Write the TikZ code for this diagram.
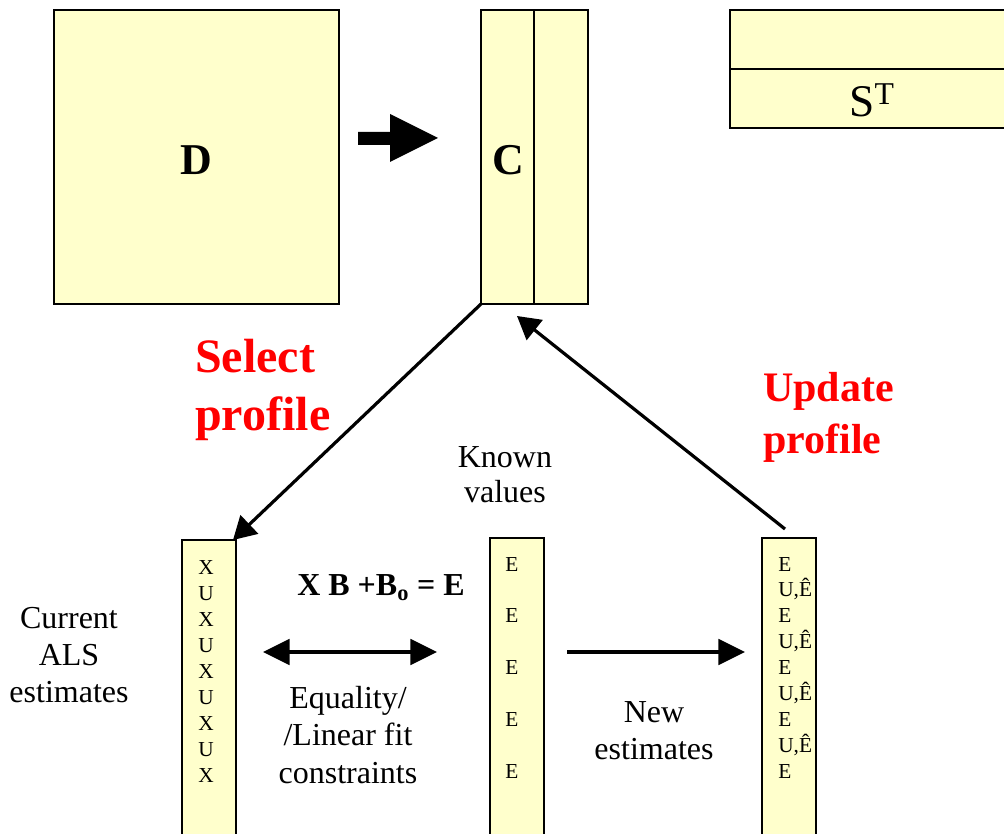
\documentclass[tikz,border=0pt]{standalone}
\usepackage{fontspec}
\setmainfont{Liberation Serif}
\usetikzlibrary{arrows.meta}
\definecolor{paleyel}{RGB}{255,255,204}
\definecolor{hotred}{RGB}{255,0,0}

\begin{document}
\begin{tikzpicture}[x=0.75pt,y=-0.75pt,
	box/.style={draw,line width=1.5pt,fill=paleyel},
	arr/.style={line width=2.4pt,-{Triangle[length=17pt,width=19pt]}},
	big/.style={font=\fontsize{33}{38}\selectfont\bfseries},
	redtxt/.style={text=hotred,align=left,inner sep=0pt},
	txt/.style={font=\fontsize{24}{28}\selectfont,align=center,inner sep=0pt},
	entry/.style={font=\fontsize{16}{19}\selectfont,inner sep=0pt}]
	\useasboundingbox (0,0) rectangle (1004,834);
	\clip (0,0) rectangle (1004,834);
	\path 
	(54,10) coordinate (D1) (339,304) coordinate (D2)
	(481,10) coordinate (C1) (588,304) coordinate (C2)
	(730,10) coordinate (S1) (1012,128) coordinate (S2)
	(182,540) coordinate (X1) (236,850) coordinate (X2)
	(490,538) coordinate (E1) (544,850) coordinate (E2)
	(762,538) coordinate (N1) (816,850) coordinate (N2)
	;
	% matrices D, C, S^T and the three profiles
	\foreach \m in {D,C,S,X,E,N} \draw[box] (\m1) rectangle (\m2);
	\draw[line width=1.5pt] (534,10)--(534,304) (730,69)--(1012,69);
	\node[big] (dlab) at (196,160) {D};
	\node[big] (clab) at (508,160) {C};
	\node[font=\fontsize{34}{38}\selectfont] (slab) at (872,100) {S\textsuperscript{T}};
	% D -> C
	\fill (358,132)--(390,132)--(390,114)--(438,138)--(390,162)--(390,145)--(358,145)--cycle;
	% select / update
	\path (481,304) coordinate (csw) (233,540) coordinate (xtop)
	(785,529) coordinate (ntop) (517,316) coordinate (cbot);
	\draw[arr] (csw)--(xtop);
	\draw[arr] (ntop)--(cbot);
	\node[redtxt,anchor=west,font=\fontsize{36}{43}\selectfont\bfseries] (sel) at (195,390) {Select\\profile};
	\node[redtxt,anchor=west,font=\fontsize{31.5}{39}\selectfont\bfseries] (upd) at (763,417) {Update\\profile};
	% profile entries
	\foreach \l [count=\i from 0] in {X,U,X,U,X,U,X,U,X}
		\node[entry,anchor=base] (x\i) at (206,574+26*\i) {\l};
	\foreach \i in {0,...,4}
		\node[entry,anchor=base] (e\i) at (512,571+51.8*\i) {E};
	\foreach \l [count=\i from 0] in {E,{U,Ê},E,{U,Ê},E,{U,Ê},E,{U,Ê},E}
		\node[entry,anchor=base west] (n\i) at (778,571+25.9*\i) {\l};
	% fit and new estimates
	\path (263,652) coordinate (fl) (437,652) coordinate (fr)
	(567,652) coordinate (nl) (745,652) coordinate (nr);
	\draw[line width=3pt,{Triangle[length=20pt,width=19pt]}-{Triangle[length=20pt,width=19pt]}] (fl)--(fr);
	\draw[line width=3pt,-{Triangle[length=20pt,width=19pt]}] (nl)--(nr);
	\node[font=\fontsize{24}{28}\selectfont\bfseries] (eq) at (381,588) {X B +B\textsubscript{o} = E};
	\node[txt,font=\fontsize{24}{26}\selectfont] (known) at (505,475) {Known\\values};
	\node[txt] (cur) at (69,655) {Current\\ALS\\estimates};
	\node[txt] (cons) at (348,735) {Equality/\\/Linear fit\\constraints};
	\node[txt] (new) at (654,731) {New\\estimates};
\end{tikzpicture}
\end{document}
